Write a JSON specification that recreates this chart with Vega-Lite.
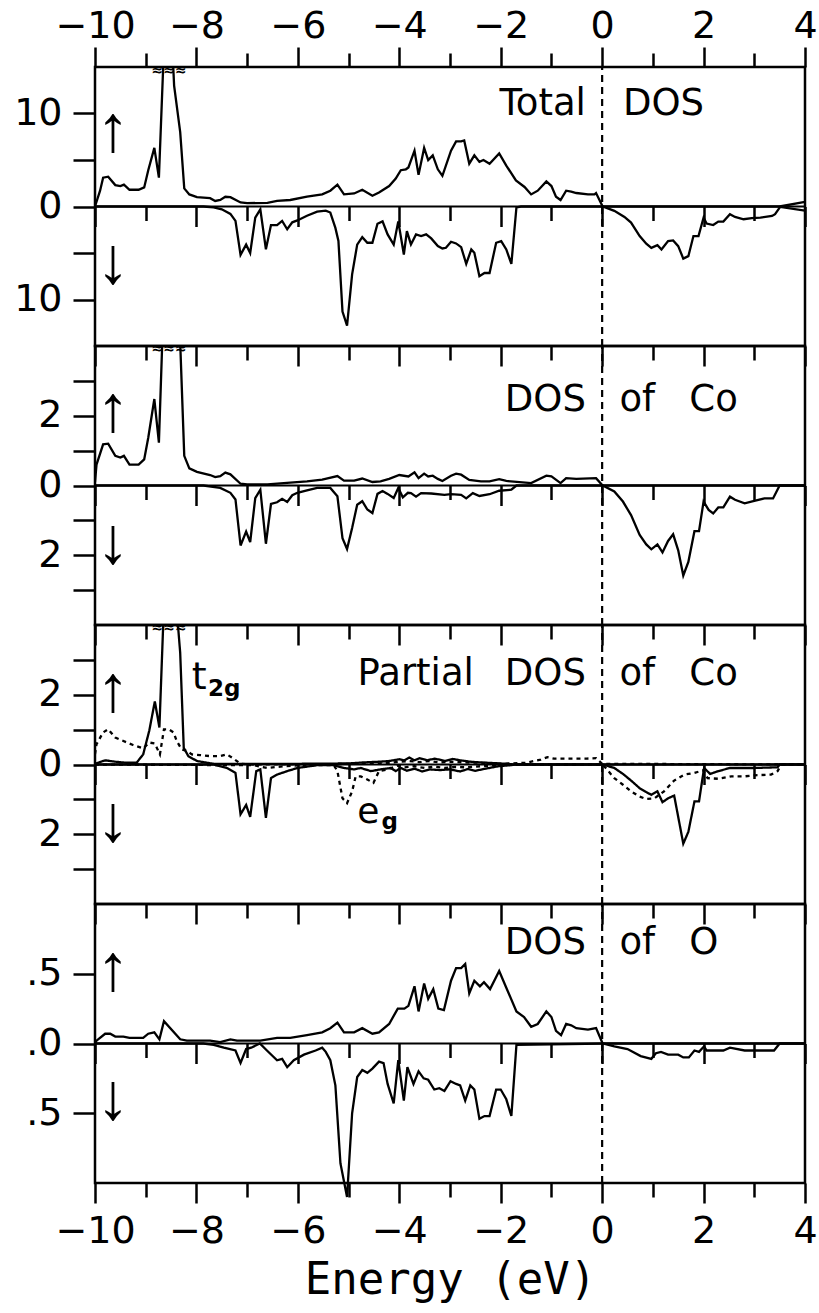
{
"$schema": "https://vega.github.io/schema/vega-lite/v6.json",
"background": "white",
"padding": {"left": 12, "top": 5, "right": 0, "bottom": 5},
"spacing": 0,
"bounds": "flush",
"datasets": {
"p1": [
{"e":-10,"v":0,"s":"up"},{"e":-9.9,"v":1.7,"s":"up"},{"e":-9.84,"v":3.1,"s":"up"},{"e":-9.74,"v":3.2,"s":"up"},{"e":-9.6,"v":2.3,"s":"up"},{"e":-9.5,"v":2.2,"s":"up"},{"e":-9.43,"v":2.35,"s":"up"},{"e":-9.32,"v":1.8,"s":"up"},{"e":-9.14,"v":1.8,"s":"up"},{"e":-9.03,"v":2.05,"s":"up"},{"e":-8.95,"v":3.9,"s":"up"},{"e":-8.83,"v":6.3,"s":"up"},{"e":-8.74,"v":3.1,"s":"up"},{"e":-8.62,"v":20,"s":"up"},{"e":-8.5,"v":20,"s":"up"},{"e":-8.44,"v":13,"s":"up"},{"e":-8.32,"v":8.0,"s":"up"},{"e":-8.24,"v":1.95,"s":"up"},{"e":-8.14,"v":1.3,"s":"up"},{"e":-7.99,"v":1.0,"s":"up"},{"e":-7.73,"v":0.9,"s":"up"},{"e":-7.63,"v":0.6,"s":"up"},{"e":-7.53,"v":0.7,"s":"up"},{"e":-7.43,"v":1.05,"s":"up"},{"e":-7.33,"v":1.0,"s":"up"},{"e":-7.13,"v":0.43,"s":"up"},{"e":-7.0,"v":0.36,"s":"up"},{"e":-6.6,"v":0.4,"s":"up"},{"e":-6.41,"v":0.6,"s":"up"},{"e":-6.15,"v":0.7,"s":"up"},{"e":-5.82,"v":1.05,"s":"up"},{"e":-5.52,"v":1.3,"s":"up"},{"e":-5.36,"v":1.7,"s":"up"},{"e":-5.22,"v":2.35,"s":"up"},{"e":-5.09,"v":1.3,"s":"up"},{"e":-4.89,"v":1.4,"s":"up"},{"e":-4.73,"v":1.8,"s":"up"},{"e":-4.53,"v":1.15,"s":"up"},{"e":-4.4,"v":1.5,"s":"up"},{"e":-4.2,"v":2.2,"s":"up"},{"e":-4.07,"v":3.0,"s":"up"},{"e":-3.97,"v":3.9,"s":"up"},{"e":-3.87,"v":4.0,"s":"up"},{"e":-3.82,"v":4.2,"s":"up"},{"e":-3.7,"v":6.0,"s":"up"},{"e":-3.62,"v":3.4,"s":"up"},{"e":-3.51,"v":6.3,"s":"up"},{"e":-3.43,"v":5.0,"s":"up"},{"e":-3.34,"v":5.5,"s":"up"},{"e":-3.24,"v":4.0,"s":"up"},{"e":-3.15,"v":3.3,"s":"up"},{"e":-2.98,"v":6.0,"s":"up"},{"e":-2.88,"v":7.0,"s":"up"},{"e":-2.78,"v":7.0,"s":"up"},{"e":-2.72,"v":7.1,"s":"up"},{"e":-2.62,"v":4.6,"s":"up"},{"e":-2.52,"v":5.5,"s":"up"},{"e":-2.42,"v":4.8,"s":"up"},{"e":-2.34,"v":5.0,"s":"up"},{"e":-2.22,"v":4.6,"s":"up"},{"e":-2.03,"v":5.7,"s":"up"},{"e":-1.89,"v":4.4,"s":"up"},{"e":-1.7,"v":2.8,"s":"up"},{"e":-1.53,"v":2.1,"s":"up"},{"e":-1.4,"v":1.3,"s":"up"},{"e":-1.27,"v":1.7,"s":"up"},{"e":-1.1,"v":2.7,"s":"up"},{"e":-1.0,"v":2.2,"s":"up"},{"e":-0.91,"v":1.05,"s":"up"},{"e":-0.82,"v":0.7,"s":"up"},{"e":-0.71,"v":1.7,"s":"up"},{"e":-0.61,"v":1.6,"s":"up"},{"e":-0.51,"v":1.45,"s":"up"},{"e":-0.28,"v":1.3,"s":"up"},{"e":-0.15,"v":1.3,"s":"up"},{"e":-0.12,"v":1.45,"s":"up"},{"e":0.01,"v":0,"s":"up"},{"e":3.5,"v":0,"s":"up"},{"e":4.0,"v":0.5,"s":"up"},
{"e":-10,"v":0,"s":"dn"},{"e":-7.86,"v":0,"s":"dn"},{"e":-7.66,"v":-0.1,"s":"dn"},{"e":-7.5,"v":-0.3,"s":"dn"},{"e":-7.33,"v":-0.8,"s":"dn"},{"e":-7.23,"v":-1.55,"s":"dn"},{"e":-7.13,"v":-5.2,"s":"dn"},{"e":-7.02,"v":-4.1,"s":"dn"},{"e":-6.94,"v":-5.0,"s":"dn"},{"e":-6.84,"v":-1.2,"s":"dn"},{"e":-6.74,"v":-0.3,"s":"dn"},{"e":-6.63,"v":-4.6,"s":"dn"},{"e":-6.53,"v":-2.0,"s":"dn"},{"e":-6.41,"v":-2.0,"s":"dn"},{"e":-6.31,"v":-1.55,"s":"dn"},{"e":-6.21,"v":-2.45,"s":"dn"},{"e":-6.11,"v":-1.7,"s":"dn"},{"e":-6.01,"v":-1.5,"s":"dn"},{"e":-5.82,"v":-1.0,"s":"dn"},{"e":-5.62,"v":-0.55,"s":"dn"},{"e":-5.45,"v":-0.45,"s":"dn"},{"e":-5.36,"v":-0.65,"s":"dn"},{"e":-5.26,"v":-2.3,"s":"dn"},{"e":-5.2,"v":-3.7,"s":"dn"},{"e":-5.12,"v":-11.3,"s":"dn"},{"e":-5.03,"v":-12.8,"s":"dn"},{"e":-4.93,"v":-7.3,"s":"dn"},{"e":-4.83,"v":-4.1,"s":"dn"},{"e":-4.73,"v":-3.3,"s":"dn"},{"e":-4.63,"v":-3.9,"s":"dn"},{"e":-4.53,"v":-3.9,"s":"dn"},{"e":-4.43,"v":-1.85,"s":"dn"},{"e":-4.33,"v":-1.6,"s":"dn"},{"e":-4.23,"v":-3.0,"s":"dn"},{"e":-4.11,"v":-4.1,"s":"dn"},{"e":-4.02,"v":-1.6,"s":"dn"},{"e":-3.91,"v":-5.16,"s":"dn"},{"e":-3.85,"v":-2.64,"s":"dn"},{"e":-3.77,"v":-4.08,"s":"dn"},{"e":-3.67,"v":-3.0,"s":"dn"},{"e":-3.57,"v":-3.18,"s":"dn"},{"e":-3.47,"v":-3.0,"s":"dn"},{"e":-3.37,"v":-3.43,"s":"dn"},{"e":-3.24,"v":-4.26,"s":"dn"},{"e":-3.15,"v":-4.51,"s":"dn"},{"e":-3.08,"v":-4.44,"s":"dn"},{"e":-2.98,"v":-3.79,"s":"dn"},{"e":-2.88,"v":-3.97,"s":"dn"},{"e":-2.78,"v":-4.37,"s":"dn"},{"e":-2.68,"v":-6.17,"s":"dn"},{"e":-2.58,"v":-4.62,"s":"dn"},{"e":-2.52,"v":-4.98,"s":"dn"},{"e":-2.42,"v":-7.5,"s":"dn"},{"e":-2.32,"v":-7.15,"s":"dn"},{"e":-2.22,"v":-7.15,"s":"dn"},{"e":-2.09,"v":-3.9,"s":"dn"},{"e":-1.99,"v":-3.72,"s":"dn"},{"e":-1.89,"v":-4.62,"s":"dn"},{"e":-1.79,"v":-6.17,"s":"dn"},{"e":-1.69,"v":-0.1,"s":"dn"},{"e":-1.6,"v":0,"s":"dn"},{"e":0.01,"v":0,"s":"dn"},{"e":0.24,"v":-0.47,"s":"dn"},{"e":0.44,"v":-1.12,"s":"dn"},{"e":0.57,"v":-1.73,"s":"dn"},{"e":0.74,"v":-3.18,"s":"dn"},{"e":0.87,"v":-4.0,"s":"dn"},{"e":0.97,"v":-4.44,"s":"dn"},{"e":1.09,"v":-4.15,"s":"dn"},{"e":1.17,"v":-4.62,"s":"dn"},{"e":1.3,"v":-3.72,"s":"dn"},{"e":1.4,"v":-3.65,"s":"dn"},{"e":1.5,"v":-4.26,"s":"dn"},{"e":1.6,"v":-5.6,"s":"dn"},{"e":1.7,"v":-5.34,"s":"dn"},{"e":1.8,"v":-3.18,"s":"dn"},{"e":1.9,"v":-3.18,"s":"dn"},{"e":2.0,"v":-1.19,"s":"dn"},{"e":2.06,"v":-1.84,"s":"dn"},{"e":2.19,"v":-1.99,"s":"dn"},{"e":2.29,"v":-1.62,"s":"dn"},{"e":2.39,"v":-1.62,"s":"dn"},{"e":2.52,"v":-0.83,"s":"dn"},{"e":2.62,"v":-1.12,"s":"dn"},{"e":2.79,"v":-1.37,"s":"dn"},{"e":2.95,"v":-1.26,"s":"dn"},{"e":3.12,"v":-1.19,"s":"dn"},{"e":3.35,"v":-1.01,"s":"dn"},{"e":3.41,"v":-0.83,"s":"dn"},{"e":3.51,"v":-0.04,"s":"dn"},{"e":4.0,"v":-0.45,"s":"dn"}
],
"p2": [
{"e":-10,"v":0.1,"s":"up"},{"e":-9.97,"v":0.6,"s":"up"},{"e":-9.84,"v":1.18,"s":"up"},{"e":-9.74,"v":1.2,"s":"up"},{"e":-9.6,"v":0.85,"s":"up"},{"e":-9.5,"v":0.8,"s":"up"},{"e":-9.43,"v":0.85,"s":"up"},{"e":-9.32,"v":0.6,"s":"up"},{"e":-9.14,"v":0.6,"s":"up"},{"e":-9.03,"v":0.75,"s":"up"},{"e":-8.95,"v":1.37,"s":"up"},{"e":-8.83,"v":2.48,"s":"up"},{"e":-8.74,"v":1.23,"s":"up"},{"e":-8.63,"v":6,"s":"up"},{"e":-8.35,"v":6,"s":"up"},{"e":-8.33,"v":4.5,"s":"up"},{"e":-8.24,"v":0.85,"s":"up"},{"e":-8.14,"v":0.49,"s":"up"},{"e":-7.99,"v":0.39,"s":"up"},{"e":-7.73,"v":0.3,"s":"up"},{"e":-7.63,"v":0.24,"s":"up"},{"e":-7.53,"v":0.27,"s":"up"},{"e":-7.43,"v":0.37,"s":"up"},{"e":-7.33,"v":0.32,"s":"up"},{"e":-7.13,"v":0.05,"s":"up"},{"e":-7.0,"v":0.03,"s":"up"},{"e":-6.6,"v":0.03,"s":"up"},{"e":-6.15,"v":0.08,"s":"up"},{"e":-5.82,"v":0.12,"s":"up"},{"e":-5.52,"v":0.17,"s":"up"},{"e":-5.22,"v":0.27,"s":"up"},{"e":-5.09,"v":0.14,"s":"up"},{"e":-4.89,"v":0.14,"s":"up"},{"e":-4.73,"v":0.2,"s":"up"},{"e":-4.53,"v":0.1,"s":"up"},{"e":-4.37,"v":0.12,"s":"up"},{"e":-4.2,"v":0.19,"s":"up"},{"e":-4.0,"v":0.3,"s":"up"},{"e":-3.82,"v":0.26,"s":"up"},{"e":-3.7,"v":0.38,"s":"up"},{"e":-3.62,"v":0.21,"s":"up"},{"e":-3.51,"v":0.34,"s":"up"},{"e":-3.43,"v":0.26,"s":"up"},{"e":-3.34,"v":0.28,"s":"up"},{"e":-3.24,"v":0.19,"s":"up"},{"e":-3.15,"v":0.13,"s":"up"},{"e":-2.98,"v":0.28,"s":"up"},{"e":-2.88,"v":0.34,"s":"up"},{"e":-2.78,"v":0.31,"s":"up"},{"e":-2.62,"v":0.16,"s":"up"},{"e":-2.39,"v":0.12,"s":"up"},{"e":-2.22,"v":0.12,"s":"up"},{"e":-2.03,"v":0.18,"s":"up"},{"e":-1.89,"v":0.13,"s":"up"},{"e":-1.4,"v":0.07,"s":"up"},{"e":-1.1,"v":0.28,"s":"up"},{"e":-1.0,"v":0.26,"s":"up"},{"e":-0.82,"v":0.07,"s":"up"},{"e":-0.71,"v":0.21,"s":"up"},{"e":-0.51,"v":0.19,"s":"up"},{"e":-0.12,"v":0.21,"s":"up"},{"e":0.01,"v":0,"s":"up"},{"e":4,"v":0,"s":"up"},
{"e":-10,"v":0,"s":"dn"},{"e":-7.86,"v":0,"s":"dn"},{"e":-7.53,"v":-0.07,"s":"dn"},{"e":-7.33,"v":-0.21,"s":"dn"},{"e":-7.23,"v":-0.4,"s":"dn"},{"e":-7.13,"v":-1.72,"s":"dn"},{"e":-7.02,"v":-1.32,"s":"dn"},{"e":-6.94,"v":-1.62,"s":"dn"},{"e":-6.84,"v":-0.36,"s":"dn"},{"e":-6.74,"v":-0.12,"s":"dn"},{"e":-6.63,"v":-1.67,"s":"dn"},{"e":-6.53,"v":-0.53,"s":"dn"},{"e":-6.41,"v":-0.48,"s":"dn"},{"e":-6.31,"v":-0.38,"s":"dn"},{"e":-6.21,"v":-0.47,"s":"dn"},{"e":-6.11,"v":-0.28,"s":"dn"},{"e":-6.01,"v":-0.21,"s":"dn"},{"e":-5.82,"v":-0.14,"s":"dn"},{"e":-5.62,"v":-0.07,"s":"dn"},{"e":-5.36,"v":-0.07,"s":"dn"},{"e":-5.22,"v":-0.31,"s":"dn"},{"e":-5.12,"v":-1.51,"s":"dn"},{"e":-5.03,"v":-1.82,"s":"dn"},{"e":-4.93,"v":-1.22,"s":"dn"},{"e":-4.83,"v":-0.55,"s":"dn"},{"e":-4.73,"v":-0.45,"s":"dn"},{"e":-4.63,"v":-0.69,"s":"dn"},{"e":-4.53,"v":-0.79,"s":"dn"},{"e":-4.43,"v":-0.24,"s":"dn"},{"e":-4.33,"v":-0.16,"s":"dn"},{"e":-4.23,"v":-0.24,"s":"dn"},{"e":-4.11,"v":-0.36,"s":"dn"},{"e":-4.02,"v":-0.07,"s":"dn"},{"e":-3.93,"v":-0.34,"s":"dn"},{"e":-3.83,"v":-0.21,"s":"dn"},{"e":-3.77,"v":-0.22,"s":"dn"},{"e":-3.67,"v":-0.32,"s":"dn"},{"e":-3.57,"v":-0.22,"s":"dn"},{"e":-3.37,"v":-0.23,"s":"dn"},{"e":-3.11,"v":-0.27,"s":"dn"},{"e":-2.98,"v":-0.25,"s":"dn"},{"e":-2.78,"v":-0.27,"s":"dn"},{"e":-2.68,"v":-0.37,"s":"dn"},{"e":-2.55,"v":-0.22,"s":"dn"},{"e":-2.42,"v":-0.3,"s":"dn"},{"e":-2.22,"v":-0.25,"s":"dn"},{"e":-2.03,"v":-0.15,"s":"dn"},{"e":-1.79,"v":-0.12,"s":"dn"},{"e":-1.69,"v":0,"s":"dn"},{"e":0.01,"v":0,"s":"dn"},{"e":0.24,"v":-0.17,"s":"dn"},{"e":0.41,"v":-0.46,"s":"dn"},{"e":0.57,"v":-0.85,"s":"dn"},{"e":0.74,"v":-1.42,"s":"dn"},{"e":0.87,"v":-1.69,"s":"dn"},{"e":0.97,"v":-1.83,"s":"dn"},{"e":1.09,"v":-1.69,"s":"dn"},{"e":1.19,"v":-1.92,"s":"dn"},{"e":1.3,"v":-1.59,"s":"dn"},{"e":1.4,"v":-1.4,"s":"dn"},{"e":1.5,"v":-1.86,"s":"dn"},{"e":1.6,"v":-2.58,"s":"dn"},{"e":1.7,"v":-2.19,"s":"dn"},{"e":1.82,"v":-1.31,"s":"dn"},{"e":1.91,"v":-1.31,"s":"dn"},{"e":2.0,"v":-0.46,"s":"dn"},{"e":2.1,"v":-0.7,"s":"dn"},{"e":2.19,"v":-0.8,"s":"dn"},{"e":2.29,"v":-0.63,"s":"dn"},{"e":2.39,"v":-0.63,"s":"dn"},{"e":2.52,"v":-0.32,"s":"dn"},{"e":2.62,"v":-0.41,"s":"dn"},{"e":2.81,"v":-0.51,"s":"dn"},{"e":3.0,"v":-0.44,"s":"dn"},{"e":3.2,"v":-0.37,"s":"dn"},{"e":3.37,"v":-0.37,"s":"dn"},{"e":3.5,"v":0,"s":"dn"},{"e":4,"v":0,"s":"dn"}
],
"p3": [
{"e":-10,"v":0.02,"s":"up","o":"t2g"},{"e":-9.8,"v":0.12,"s":"up","o":"t2g"},{"e":-9.6,"v":0.08,"s":"up","o":"t2g"},{"e":-9.38,"v":0.05,"s":"up","o":"t2g"},{"e":-9.18,"v":0.05,"s":"up","o":"t2g"},{"e":-9.05,"v":0.29,"s":"up","o":"t2g"},{"e":-8.93,"v":0.97,"s":"up","o":"t2g"},{"e":-8.82,"v":1.81,"s":"up","o":"t2g"},{"e":-8.73,"v":1.06,"s":"up","o":"t2g"},{"e":-8.63,"v":5,"s":"up","o":"t2g"},{"e":-8.42,"v":5,"s":"up","o":"t2g"},{"e":-8.32,"v":3.2,"s":"up","o":"t2g"},{"e":-8.25,"v":0.48,"s":"up","o":"t2g"},{"e":-8.16,"v":0.24,"s":"up","o":"t2g"},{"e":-7.99,"v":0.1,"s":"up","o":"t2g"},{"e":-7.66,"v":0.02,"s":"up","o":"t2g"},{"e":-6.0,"v":0.02,"s":"up","o":"t2g"},{"e":-5.0,"v":0.03,"s":"up","o":"t2g"},{"e":-4.7,"v":0.06,"s":"up","o":"t2g"},{"e":-4.4,"v":0.08,"s":"up","o":"t2g"},{"e":-4.2,"v":0.1,"s":"up","o":"t2g"},{"e":-4.0,"v":0.15,"s":"up","o":"t2g"},{"e":-3.9,"v":0.12,"s":"up","o":"t2g"},{"e":-3.8,"v":0.2,"s":"up","o":"t2g"},{"e":-3.7,"v":0.12,"s":"up","o":"t2g"},{"e":-3.6,"v":0.18,"s":"up","o":"t2g"},{"e":-3.45,"v":0.12,"s":"up","o":"t2g"},{"e":-3.3,"v":0.17,"s":"up","o":"t2g"},{"e":-3.1,"v":0.1,"s":"up","o":"t2g"},{"e":-2.95,"v":0.16,"s":"up","o":"t2g"},{"e":-2.8,"v":0.12,"s":"up","o":"t2g"},{"e":-2.6,"v":0.08,"s":"up","o":"t2g"},{"e":-2.4,"v":0.06,"s":"up","o":"t2g"},{"e":-2.0,"v":0.03,"s":"up","o":"t2g"},{"e":-1.7,"v":0,"s":"up","o":"t2g"},{"e":4,"v":0,"s":"up","o":"t2g"},
{"e":-10,"v":0.3,"s":"up","o":"eg"},{"e":-9.97,"v":0.58,"s":"up","o":"eg"},{"e":-9.84,"v":0.92,"s":"up","o":"eg"},{"e":-9.74,"v":1.01,"s":"up","o":"eg"},{"e":-9.6,"v":0.77,"s":"up","o":"eg"},{"e":-9.45,"v":0.68,"s":"up","o":"eg"},{"e":-9.25,"v":0.56,"s":"up","o":"eg"},{"e":-9.05,"v":0.46,"s":"up","o":"eg"},{"e":-8.93,"v":0.63,"s":"up","o":"eg"},{"e":-8.82,"v":0.6,"s":"up","o":"eg"},{"e":-8.72,"v":0.29,"s":"up","o":"eg"},{"e":-8.64,"v":1.01,"s":"up","o":"eg"},{"e":-8.55,"v":1.01,"s":"up","o":"eg"},{"e":-8.45,"v":0.92,"s":"up","o":"eg"},{"e":-8.39,"v":0.68,"s":"up","o":"eg"},{"e":-8.29,"v":0.43,"s":"up","o":"eg"},{"e":-8.19,"v":0.39,"s":"up","o":"eg"},{"e":-8.09,"v":0.29,"s":"up","o":"eg"},{"e":-7.93,"v":0.27,"s":"up","o":"eg"},{"e":-7.73,"v":0.24,"s":"up","o":"eg"},{"e":-7.53,"v":0.24,"s":"up","o":"eg"},{"e":-7.4,"v":0.29,"s":"up","o":"eg"},{"e":-7.27,"v":0.17,"s":"up","o":"eg"},{"e":-7.13,"v":0.02,"s":"up","o":"eg"},{"e":-6.87,"v":0,"s":"up","o":"eg"},{"e":-4.5,"v":0.02,"s":"up","o":"eg"},{"e":-4.2,"v":0.05,"s":"up","o":"eg"},{"e":-4.0,"v":0.08,"s":"up","o":"eg"},{"e":-3.8,"v":0.1,"s":"up","o":"eg"},{"e":-3.6,"v":0.07,"s":"up","o":"eg"},{"e":-3.4,"v":0.1,"s":"up","o":"eg"},{"e":-3.2,"v":0.06,"s":"up","o":"eg"},{"e":-3.0,"v":0.08,"s":"up","o":"eg"},{"e":-2.7,"v":0.06,"s":"up","o":"eg"},{"e":-2.4,"v":0.05,"s":"up","o":"eg"},{"e":-2.0,"v":0.02,"s":"up","o":"eg"},{"e":-1.5,"v":0.05,"s":"up","o":"eg"},{"e":-1.21,"v":0.14,"s":"up","o":"eg"},{"e":-1.08,"v":0.21,"s":"up","o":"eg"},{"e":-0.95,"v":0.17,"s":"up","o":"eg"},{"e":-0.68,"v":0.17,"s":"up","o":"eg"},{"e":-0.3,"v":0.17,"s":"up","o":"eg"},{"e":-0.12,"v":0.18,"s":"up","o":"eg"},{"e":0.0,"v":0.02,"s":"up","o":"eg"},{"e":4,"v":0,"s":"up","o":"eg"},
{"e":-10,"v":0,"s":"dn","o":"t2g"},{"e":-7.66,"v":0,"s":"dn","o":"t2g"},{"e":-7.4,"v":-0.1,"s":"dn","o":"t2g"},{"e":-7.23,"v":-0.24,"s":"dn","o":"t2g"},{"e":-7.13,"v":-1.43,"s":"dn","o":"t2g"},{"e":-7.02,"v":-1.16,"s":"dn","o":"t2g"},{"e":-6.94,"v":-1.5,"s":"dn","o":"t2g"},{"e":-6.82,"v":-0.19,"s":"dn","o":"t2g"},{"e":-6.74,"v":-0.14,"s":"dn","o":"t2g"},{"e":-6.63,"v":-1.53,"s":"dn","o":"t2g"},{"e":-6.53,"v":-0.39,"s":"dn","o":"t2g"},{"e":-6.41,"v":-0.29,"s":"dn","o":"t2g"},{"e":-6.21,"v":-0.19,"s":"dn","o":"t2g"},{"e":-6.01,"v":-0.1,"s":"dn","o":"t2g"},{"e":-5.62,"v":-0.02,"s":"dn","o":"t2g"},{"e":-5.29,"v":-0.02,"s":"dn","o":"t2g"},{"e":-5.09,"v":-0.1,"s":"dn","o":"t2g"},{"e":-4.89,"v":-0.14,"s":"dn","o":"t2g"},{"e":-4.76,"v":-0.1,"s":"dn","o":"t2g"},{"e":-4.56,"v":-0.19,"s":"dn","o":"t2g"},{"e":-4.37,"v":-0.14,"s":"dn","o":"t2g"},{"e":-4.17,"v":-0.1,"s":"dn","o":"t2g"},{"e":-4.07,"v":-0.19,"s":"dn","o":"t2g"},{"e":-3.97,"v":-0.1,"s":"dn","o":"t2g"},{"e":-3.85,"v":-0.18,"s":"dn","o":"t2g"},{"e":-3.7,"v":-0.12,"s":"dn","o":"t2g"},{"e":-3.55,"v":-0.2,"s":"dn","o":"t2g"},{"e":-3.4,"v":-0.14,"s":"dn","o":"t2g"},{"e":-3.2,"v":-0.16,"s":"dn","o":"t2g"},{"e":-3.0,"v":-0.14,"s":"dn","o":"t2g"},{"e":-2.8,"v":-0.2,"s":"dn","o":"t2g"},{"e":-2.65,"v":-0.13,"s":"dn","o":"t2g"},{"e":-2.5,"v":-0.18,"s":"dn","o":"t2g"},{"e":-2.3,"v":-0.12,"s":"dn","o":"t2g"},{"e":-2.05,"v":-0.05,"s":"dn","o":"t2g"},{"e":-1.8,"v":-0.02,"s":"dn","o":"t2g"},{"e":-1.7,"v":0,"s":"dn","o":"t2g"},{"e":0.01,"v":0,"s":"dn","o":"t2g"},{"e":0.24,"v":-0.1,"s":"dn","o":"t2g"},{"e":0.41,"v":-0.27,"s":"dn","o":"t2g"},{"e":0.57,"v":-0.46,"s":"dn","o":"t2g"},{"e":0.74,"v":-0.68,"s":"dn","o":"t2g"},{"e":0.87,"v":-0.79,"s":"dn","o":"t2g"},{"e":0.97,"v":-0.87,"s":"dn","o":"t2g"},{"e":1.09,"v":-0.77,"s":"dn","o":"t2g"},{"e":1.19,"v":-1.08,"s":"dn","o":"t2g"},{"e":1.3,"v":-0.97,"s":"dn","o":"t2g"},{"e":1.42,"v":-0.89,"s":"dn","o":"t2g"},{"e":1.6,"v":-2.27,"s":"dn","o":"t2g"},{"e":1.7,"v":-1.93,"s":"dn","o":"t2g"},{"e":1.82,"v":-1.06,"s":"dn","o":"t2g"},{"e":1.91,"v":-1.06,"s":"dn","o":"t2g"},{"e":2.01,"v":-0.1,"s":"dn","o":"t2g"},{"e":2.13,"v":-0.27,"s":"dn","o":"t2g"},{"e":2.29,"v":-0.19,"s":"dn","o":"t2g"},{"e":2.52,"v":-0.1,"s":"dn","o":"t2g"},{"e":3.0,"v":-0.1,"s":"dn","o":"t2g"},{"e":3.46,"v":-0.08,"s":"dn","o":"t2g"},{"e":3.5,"v":0,"s":"dn","o":"t2g"},{"e":4,"v":0,"s":"dn","o":"t2g"},
{"e":-10,"v":0,"s":"dn","o":"eg"},{"e":-6.87,"v":-0.02,"s":"dn","o":"eg"},{"e":-6.61,"v":-0.1,"s":"dn","o":"eg"},{"e":-6.28,"v":-0.05,"s":"dn","o":"eg"},{"e":-5.95,"v":-0.02,"s":"dn","o":"eg"},{"e":-5.29,"v":-0.02,"s":"dn","o":"eg"},{"e":-5.22,"v":-0.19,"s":"dn","o":"eg"},{"e":-5.12,"v":-0.97,"s":"dn","o":"eg"},{"e":-5.03,"v":-1.11,"s":"dn","o":"eg"},{"e":-4.93,"v":-0.77,"s":"dn","o":"eg"},{"e":-4.86,"v":-0.34,"s":"dn","o":"eg"},{"e":-4.76,"v":-0.34,"s":"dn","o":"eg"},{"e":-4.63,"v":-0.43,"s":"dn","o":"eg"},{"e":-4.51,"v":-0.53,"s":"dn","o":"eg"},{"e":-4.4,"v":-0.19,"s":"dn","o":"eg"},{"e":-4.23,"v":-0.14,"s":"dn","o":"eg"},{"e":-4.03,"v":-0.03,"s":"dn","o":"eg"},{"e":-3.9,"v":-0.08,"s":"dn","o":"eg"},{"e":-3.7,"v":-0.05,"s":"dn","o":"eg"},{"e":-3.5,"v":-0.1,"s":"dn","o":"eg"},{"e":-3.3,"v":-0.06,"s":"dn","o":"eg"},{"e":-3.1,"v":-0.1,"s":"dn","o":"eg"},{"e":-2.9,"v":-0.07,"s":"dn","o":"eg"},{"e":-2.7,"v":-0.08,"s":"dn","o":"eg"},{"e":-2.4,"v":-0.05,"s":"dn","o":"eg"},{"e":-2.0,"v":-0.02,"s":"dn","o":"eg"},{"e":-1.7,"v":0,"s":"dn","o":"eg"},{"e":0.01,"v":0,"s":"dn","o":"eg"},{"e":0.24,"v":-0.39,"s":"dn","o":"eg"},{"e":0.41,"v":-0.58,"s":"dn","o":"eg"},{"e":0.57,"v":-0.77,"s":"dn","o":"eg"},{"e":0.74,"v":-0.92,"s":"dn","o":"eg"},{"e":0.87,"v":-0.99,"s":"dn","o":"eg"},{"e":1.03,"v":-0.97,"s":"dn","o":"eg"},{"e":1.22,"v":-0.77,"s":"dn","o":"eg"},{"e":1.42,"v":-0.46,"s":"dn","o":"eg"},{"e":1.62,"v":-0.29,"s":"dn","o":"eg"},{"e":1.82,"v":-0.24,"s":"dn","o":"eg"},{"e":1.99,"v":-0.17,"s":"dn","o":"eg"},{"e":2.08,"v":-0.39,"s":"dn","o":"eg"},{"e":2.29,"v":-0.41,"s":"dn","o":"eg"},{"e":2.55,"v":-0.34,"s":"dn","o":"eg"},{"e":2.81,"v":-0.34,"s":"dn","o":"eg"},{"e":3.0,"v":-0.31,"s":"dn","o":"eg"},{"e":3.33,"v":-0.29,"s":"dn","o":"eg"},{"e":3.46,"v":-0.19,"s":"dn","o":"eg"},{"e":3.53,"v":0,"s":"dn","o":"eg"},{"e":4,"v":0,"s":"dn","o":"eg"}
],
"p4": [
{"e":-10,"v":0,"s":"up"},{"e":-9.97,"v":0.02,"s":"up"},{"e":-9.8,"v":0.07,"s":"up"},{"e":-9.7,"v":0.07,"s":"up"},{"e":-9.6,"v":0.05,"s":"up"},{"e":-9.44,"v":0.05,"s":"up"},{"e":-9.32,"v":0.04,"s":"up"},{"e":-9.05,"v":0.04,"s":"up"},{"e":-8.95,"v":0.07,"s":"up"},{"e":-8.83,"v":0.08,"s":"up"},{"e":-8.73,"v":0.03,"s":"up"},{"e":-8.64,"v":0.16,"s":"up"},{"e":-8.32,"v":0.03,"s":"up"},{"e":-8.19,"v":0.02,"s":"up"},{"e":-7.73,"v":0.02,"s":"up"},{"e":-7.53,"v":0.01,"s":"up"},{"e":-7.33,"v":0.03,"s":"up"},{"e":-7.2,"v":0.02,"s":"up"},{"e":-6.74,"v":0.02,"s":"up"},{"e":-6.41,"v":0.04,"s":"up"},{"e":-6.15,"v":0.04,"s":"up"},{"e":-5.82,"v":0.06,"s":"up"},{"e":-5.52,"v":0.08,"s":"up"},{"e":-5.36,"v":0.11,"s":"up"},{"e":-5.22,"v":0.15,"s":"up"},{"e":-5.09,"v":0.08,"s":"up"},{"e":-4.89,"v":0.08,"s":"up"},{"e":-4.73,"v":0.11,"s":"up"},{"e":-4.53,"v":0.07,"s":"up"},{"e":-4.4,"v":0.08,"s":"up"},{"e":-4.2,"v":0.14,"s":"up"},{"e":-4.03,"v":0.25,"s":"up"},{"e":-3.9,"v":0.25,"s":"up"},{"e":-3.82,"v":0.27,"s":"up"},{"e":-3.7,"v":0.41,"s":"up"},{"e":-3.62,"v":0.23,"s":"up"},{"e":-3.51,"v":0.43,"s":"up"},{"e":-3.43,"v":0.32,"s":"up"},{"e":-3.33,"v":0.39,"s":"up"},{"e":-3.23,"v":0.25,"s":"up"},{"e":-3.12,"v":0.24,"s":"up"},{"e":-2.98,"v":0.45,"s":"up"},{"e":-2.88,"v":0.54,"s":"up"},{"e":-2.78,"v":0.54,"s":"up"},{"e":-2.7,"v":0.57,"s":"up"},{"e":-2.62,"v":0.36,"s":"up"},{"e":-2.52,"v":0.45,"s":"up"},{"e":-2.41,"v":0.41,"s":"up"},{"e":-2.33,"v":0.44,"s":"up"},{"e":-2.21,"v":0.39,"s":"up"},{"e":-2.03,"v":0.52,"s":"up"},{"e":-1.89,"v":0.4,"s":"up"},{"e":-1.69,"v":0.23,"s":"up"},{"e":-1.54,"v":0.19,"s":"up"},{"e":-1.4,"v":0.12,"s":"up"},{"e":-1.27,"v":0.14,"s":"up"},{"e":-1.1,"v":0.23,"s":"up"},{"e":-1.0,"v":0.19,"s":"up"},{"e":-0.91,"v":0.09,"s":"up"},{"e":-0.81,"v":0.06,"s":"up"},{"e":-0.71,"v":0.14,"s":"up"},{"e":-0.61,"v":0.13,"s":"up"},{"e":-0.51,"v":0.11,"s":"up"},{"e":-0.28,"v":0.1,"s":"up"},{"e":-0.12,"v":0.11,"s":"up"},{"e":0.01,"v":0,"s":"up"},{"e":4,"v":0,"s":"up"},
{"e":-10,"v":0,"s":"dn"},{"e":-7.86,"v":0,"s":"dn"},{"e":-7.66,"v":-0.01,"s":"dn"},{"e":-7.46,"v":-0.03,"s":"dn"},{"e":-7.23,"v":-0.05,"s":"dn"},{"e":-7.13,"v":-0.14,"s":"dn"},{"e":-7.02,"v":-0.04,"s":"dn"},{"e":-6.92,"v":-0.03,"s":"dn"},{"e":-6.75,"v":0,"s":"dn"},{"e":-6.61,"v":-0.05,"s":"dn"},{"e":-6.41,"v":-0.12,"s":"dn"},{"e":-6.31,"v":-0.11,"s":"dn"},{"e":-6.21,"v":-0.17,"s":"dn"},{"e":-6.08,"v":-0.12,"s":"dn"},{"e":-5.88,"v":-0.08,"s":"dn"},{"e":-5.65,"v":-0.05,"s":"dn"},{"e":-5.52,"v":-0.03,"s":"dn"},{"e":-5.45,"v":-0.06,"s":"dn"},{"e":-5.36,"v":-0.12,"s":"dn"},{"e":-5.26,"v":-0.3,"s":"dn"},{"e":-5.16,"v":-0.86,"s":"dn"},{"e":-5.03,"v":-1.1,"s":"dn"},{"e":-4.93,"v":-0.5,"s":"dn"},{"e":-4.83,"v":-0.24,"s":"dn"},{"e":-4.73,"v":-0.19,"s":"dn"},{"e":-4.63,"v":-0.21,"s":"dn"},{"e":-4.53,"v":-0.18,"s":"dn"},{"e":-4.4,"v":-0.13,"s":"dn"},{"e":-4.31,"v":-0.14,"s":"dn"},{"e":-4.23,"v":-0.29,"s":"dn"},{"e":-4.11,"v":-0.43,"s":"dn"},{"e":-4.02,"v":-0.12,"s":"dn"},{"e":-3.91,"v":-0.41,"s":"dn"},{"e":-3.84,"v":-0.17,"s":"dn"},{"e":-3.72,"v":-0.29,"s":"dn"},{"e":-3.62,"v":-0.2,"s":"dn"},{"e":-3.52,"v":-0.25,"s":"dn"},{"e":-3.43,"v":-0.26,"s":"dn"},{"e":-3.31,"v":-0.33,"s":"dn"},{"e":-3.21,"v":-0.32,"s":"dn"},{"e":-3.11,"v":-0.34,"s":"dn"},{"e":-2.99,"v":-0.27,"s":"dn"},{"e":-2.88,"v":-0.29,"s":"dn"},{"e":-2.8,"v":-0.3,"s":"dn"},{"e":-2.7,"v":-0.41,"s":"dn"},{"e":-2.6,"v":-0.3,"s":"dn"},{"e":-2.52,"v":-0.33,"s":"dn"},{"e":-2.42,"v":-0.54,"s":"dn"},{"e":-2.32,"v":-0.52,"s":"dn"},{"e":-2.22,"v":-0.52,"s":"dn"},{"e":-2.09,"v":-0.33,"s":"dn"},{"e":-2.0,"v":-0.33,"s":"dn"},{"e":-1.89,"v":-0.4,"s":"dn"},{"e":-1.79,"v":-0.52,"s":"dn"},{"e":-1.69,"v":-0.01,"s":"dn"},{"e":0.01,"v":0,"s":"dn"},{"e":0.24,"v":-0.02,"s":"dn"},{"e":0.5,"v":-0.04,"s":"dn"},{"e":0.76,"v":-0.09,"s":"dn"},{"e":0.97,"v":-0.11,"s":"dn"},{"e":1.06,"v":-0.07,"s":"dn"},{"e":1.16,"v":-0.06,"s":"dn"},{"e":1.3,"v":-0.08,"s":"dn"},{"e":1.5,"v":-0.08,"s":"dn"},{"e":1.6,"v":-0.1,"s":"dn"},{"e":1.71,"v":-0.1,"s":"dn"},{"e":1.82,"v":-0.05,"s":"dn"},{"e":1.91,"v":-0.06,"s":"dn"},{"e":2.01,"v":-0.02,"s":"dn"},{"e":2.06,"v":-0.05,"s":"dn"},{"e":2.39,"v":-0.05,"s":"dn"},{"e":2.52,"v":-0.03,"s":"dn"},{"e":2.81,"v":-0.05,"s":"dn"},{"e":3.14,"v":-0.05,"s":"dn"},{"e":3.39,"v":-0.05,"s":"dn"},{"e":3.5,"v":0,"s":"dn"},{"e":4,"v":0,"s":"dn"}
],
"one": [{}]
},
"vconcat": [
{
"width": 710, "height": 279,
"resolve": {"axis": {"x": "independent", "y": "independent"}},
"layer": [
{"data": {"name": "p1"}, "mark": {"type": "line", "clip": true},
 "encoding": {
  "x": {"field": "e", "type": "quantitative", "scale": {"domain": [-10, 4], "nice": false}, "axis": {"orient": "top", "values": [-10,-8,-6,-4,-2,0,2,4], "tickSize": 20, "labelPadding": 2, "format": "d", "title": null}},
  "y": {"field": "v", "type": "quantitative", "scale": {"domain": [-15, 15], "nice": false}, "axis": {"orient": "left", "values": [-10,-5,0,5,10], "labelExpr": "abs(datum.value) == 5 ? '' : format(abs(datum.value), 'd')", "tickSize": 22, "labelPadding": 11, "title": null}},
  "detail": {"field": "s"}}},
{"data": {"name": "one"}, "mark": {"type": "rule"}, "encoding": {"x": {"datum": -10, "type": "quantitative", "axis": null}, "x2": {"datum": 4}, "y": {"datum": 0, "type": "quantitative", "axis": null}}},
{"data": {"name": "one"}, "mark": {"type": "rule", "strokeDash": [7, 5]}, "encoding": {"x": {"datum": 0, "type": "quantitative", "axis": {"orient": "top", "values": [-9,-7,-5,-3,-1,1,3], "tickSize": 14, "labels": false, "title": null}}, "y": {"datum": -15, "type": "quantitative", "axis": null}, "y2": {"datum": 15}}},
{"data": {"name": "one"}, "mark": {"type": "point", "opacity": 0}, "encoding": {"x": {"datum": 0, "type": "quantitative", "axis": {"orient": "bottom", "offset": -139.5, "values": [-10,-8,-6,-4,-2,0,2,4], "tickSize": 20, "labels": false, "title": null}}, "y": {"datum": 0, "type": "quantitative", "axis": null}}},
{"data": {"name": "one"}, "mark": {"type": "point", "opacity": 0}, "encoding": {"x": {"datum": 0, "type": "quantitative", "axis": {"orient": "bottom", "offset": -139.5, "values": [-9,-7,-5,-3,-1,1,3], "tickSize": 14, "labels": false, "title": null}}, "y": {"datum": 0, "type": "quantitative", "axis": null}}},
{"data": {"name": "one"}, "mark": {"type": "text", "text": "Total", "align": "right", "baseline": "alphabetic"}, "encoding": {"x": {"datum": -0.32, "type": "quantitative", "axis": null}, "y": {"datum": 9.8, "type": "quantitative", "axis": null}}},
{"data": {"name": "one"}, "mark": {"type": "text", "text": "DOS", "align": "left", "baseline": "alphabetic"}, "encoding": {"x": {"datum": 0.41, "type": "quantitative", "axis": null}, "y": {"datum": 9.8, "type": "quantitative", "axis": null}}},
{"data": {"name": "one"}, "mark": {"type": "text", "text": "↑", "align": "center", "baseline": "middle", "font": "Liberation Sans", "fontSize": 66}, "encoding": {"x": {"datum": -9.645, "type": "quantitative", "axis": null}, "y": {"datum": 8.1, "type": "quantitative", "axis": null}}},
{"data": {"name": "one"}, "mark": {"type": "text", "text": "↓", "align": "center", "baseline": "middle", "font": "Liberation Sans", "fontSize": 66}, "encoding": {"x": {"datum": -9.645, "type": "quantitative", "axis": null}, "y": {"datum": -6.1, "type": "quantitative", "axis": null}}},
{"data": {"name": "one"}, "mark": {"type": "text", "text": "≈≈≈", "align": "center", "baseline": "middle", "fontSize": 14, "fontWeight": "bold"}, "encoding": {"x": {"datum": -8.54, "type": "quantitative", "axis": null}, "y": {"datum": 14.6, "type": "quantitative", "axis": null}}}
]
},
{
"width": 710, "height": 279,
"resolve": {"axis": {"x": "independent", "y": "independent"}},
"layer": [
{"data": {"name": "p2"}, "mark": {"type": "line", "clip": true},
 "encoding": {
  "x": {"field": "e", "type": "quantitative", "scale": {"domain": [-10, 4], "nice": false}, "axis": {"orient": "top", "values": [-10,-8,-6,-4,-2,0,2,4], "tickSize": -20, "labels": false, "title": null}},
  "y": {"field": "v", "type": "quantitative", "scale": {"domain": [-4, 4], "nice": false}, "axis": {"orient": "left", "values": [-3,-2,-1,0,1,2,3], "labelExpr": "abs(datum.value) == 2 || datum.value == 0 ? format(abs(datum.value), 'd') : ''", "tickSize": 22, "labelPadding": 11, "title": null}},
  "detail": {"field": "s"}}},
{"data": {"name": "one"}, "mark": {"type": "rule"}, "encoding": {"x": {"datum": -10, "type": "quantitative", "axis": null}, "x2": {"datum": 4}, "y": {"datum": 0, "type": "quantitative", "axis": null}}},
{"data": {"name": "one"}, "mark": {"type": "rule", "strokeDash": [7, 5]}, "encoding": {"x": {"datum": 0, "type": "quantitative", "axis": {"orient": "top", "values": [-9,-7,-5,-3,-1,1,3], "tickSize": -14, "labels": false, "title": null}}, "y": {"datum": -4, "type": "quantitative", "axis": null}, "y2": {"datum": 4}}},
{"data": {"name": "one"}, "mark": {"type": "point", "opacity": 0}, "encoding": {"x": {"datum": 0, "type": "quantitative", "axis": {"orient": "bottom", "offset": -139.5, "values": [-10,-8,-6,-4,-2,0,2,4], "tickSize": 20, "labels": false, "title": null}}, "y": {"datum": 0, "type": "quantitative", "axis": null}}},
{"data": {"name": "one"}, "mark": {"type": "point", "opacity": 0}, "encoding": {"x": {"datum": 0, "type": "quantitative", "axis": {"orient": "bottom", "offset": -139.5, "values": [-9,-7,-5,-3,-1,1,3], "tickSize": 14, "labels": false, "title": null}}, "y": {"datum": 0, "type": "quantitative", "axis": null}}},
{"data": {"name": "one"}, "mark": {"type": "text", "text": "DOS", "align": "right", "baseline": "alphabetic"}, "encoding": {"x": {"datum": -0.32, "type": "quantitative", "axis": null}, "y": {"datum": 2.13, "type": "quantitative", "axis": null}}},
{"data": {"name": "one"}, "mark": {"type": "text", "text": "of", "align": "left", "baseline": "alphabetic"}, "encoding": {"x": {"datum": 0.34, "type": "quantitative", "axis": null}, "y": {"datum": 2.13, "type": "quantitative", "axis": null}}},
{"data": {"name": "one"}, "mark": {"type": "text", "text": "Co", "align": "left", "baseline": "alphabetic"}, "encoding": {"x": {"datum": 1.72, "type": "quantitative", "axis": null}, "y": {"datum": 2.13, "type": "quantitative", "axis": null}}},
{"data": {"name": "one"}, "mark": {"type": "text", "text": "↑", "align": "center", "baseline": "middle", "font": "Liberation Sans", "fontSize": 66}, "encoding": {"x": {"datum": -9.645, "type": "quantitative", "axis": null}, "y": {"datum": 2.14, "type": "quantitative", "axis": null}}},
{"data": {"name": "one"}, "mark": {"type": "text", "text": "↓", "align": "center", "baseline": "middle", "font": "Liberation Sans", "fontSize": 66}, "encoding": {"x": {"datum": -9.645, "type": "quantitative", "axis": null}, "y": {"datum": -1.65, "type": "quantitative", "axis": null}}},
{"data": {"name": "one"}, "mark": {"type": "text", "text": "≈≈≈", "align": "center", "baseline": "middle", "fontSize": 14, "fontWeight": "bold"}, "encoding": {"x": {"datum": -8.54, "type": "quantitative", "axis": null}, "y": {"datum": 3.9, "type": "quantitative", "axis": null}}}
]
},
{
"width": 710, "height": 279,
"resolve": {"axis": {"x": "independent", "y": "independent"}},
"layer": [
{"data": {"name": "p3"}, "mark": {"type": "line", "clip": true},
 "encoding": {
  "x": {"field": "e", "type": "quantitative", "scale": {"domain": [-10, 4], "nice": false}, "axis": {"orient": "top", "values": [-10,-8,-6,-4,-2,0,2,4], "tickSize": -20, "labels": false, "title": null}},
  "y": {"field": "v", "type": "quantitative", "scale": {"domain": [-4, 4], "nice": false}, "axis": {"orient": "left", "values": [-3,-2,-1,0,1,2,3], "labelExpr": "abs(datum.value) == 2 || datum.value == 0 ? format(abs(datum.value), 'd') : ''", "tickSize": 22, "labelPadding": 11, "title": null}},
  "strokeDash": {"field": "o", "type": "nominal", "scale": {"domain": ["t2g", "eg"], "range": [[1, 0], [4, 4]]}, "legend": null},
  "detail": {"field": "s"}}},
{"data": {"name": "one"}, "mark": {"type": "rule"}, "encoding": {"x": {"datum": -10, "type": "quantitative", "axis": null}, "x2": {"datum": 4}, "y": {"datum": 0, "type": "quantitative", "axis": null}}},
{"data": {"name": "one"}, "mark": {"type": "rule", "strokeDash": [7, 5]}, "encoding": {"x": {"datum": 0, "type": "quantitative", "axis": {"orient": "top", "values": [-9,-7,-5,-3,-1,1,3], "tickSize": -14, "labels": false, "title": null}}, "y": {"datum": -4, "type": "quantitative", "axis": null}, "y2": {"datum": 4}}},
{"data": {"name": "one"}, "mark": {"type": "point", "opacity": 0}, "encoding": {"x": {"datum": 0, "type": "quantitative", "axis": {"orient": "bottom", "offset": -139.5, "values": [-10,-8,-6,-4,-2,0,2,4], "tickSize": 20, "labels": false, "title": null}}, "y": {"datum": 0, "type": "quantitative", "axis": null}}},
{"data": {"name": "one"}, "mark": {"type": "point", "opacity": 0}, "encoding": {"x": {"datum": 0, "type": "quantitative", "axis": {"orient": "bottom", "offset": -139.5, "values": [-9,-7,-5,-3,-1,1,3], "tickSize": 14, "labels": false, "title": null}}, "y": {"datum": 0, "type": "quantitative", "axis": null}}},
{"data": {"name": "one"}, "mark": {"type": "text", "text": "Partial", "align": "right", "baseline": "alphabetic"}, "encoding": {"x": {"datum": -2.53, "type": "quantitative", "axis": null}, "y": {"datum": 2.27, "type": "quantitative", "axis": null}}},
{"data": {"name": "one"}, "mark": {"type": "text", "text": "DOS", "align": "right", "baseline": "alphabetic"}, "encoding": {"x": {"datum": -0.32, "type": "quantitative", "axis": null}, "y": {"datum": 2.27, "type": "quantitative", "axis": null}}},
{"data": {"name": "one"}, "mark": {"type": "text", "text": "of", "align": "left", "baseline": "alphabetic"}, "encoding": {"x": {"datum": 0.34, "type": "quantitative", "axis": null}, "y": {"datum": 2.27, "type": "quantitative", "axis": null}}},
{"data": {"name": "one"}, "mark": {"type": "text", "text": "Co", "align": "left", "baseline": "alphabetic"}, "encoding": {"x": {"datum": 1.72, "type": "quantitative", "axis": null}, "y": {"datum": 2.27, "type": "quantitative", "axis": null}}},
{"data": {"name": "one"}, "mark": {"type": "text", "text": "t", "align": "left", "baseline": "alphabetic", "fontSize": 38}, "encoding": {"x": {"datum": -8.09, "type": "quantitative", "axis": null}, "y": {"datum": 2.16, "type": "quantitative", "axis": null}}},
{"data": {"name": "one"}, "mark": {"type": "text", "text": "2g", "align": "left", "baseline": "alphabetic", "fontSize": 23, "fontWeight": "bold"}, "encoding": {"x": {"datum": -7.77, "type": "quantitative", "axis": null}, "y": {"datum": 1.96, "type": "quantitative", "axis": null}}},
{"data": {"name": "one"}, "mark": {"type": "text", "text": "e", "align": "left", "baseline": "alphabetic", "fontSize": 36}, "encoding": {"x": {"datum": -4.83, "type": "quantitative", "axis": null}, "y": {"datum": -1.68, "type": "quantitative", "axis": null}}},
{"data": {"name": "one"}, "mark": {"type": "text", "text": "g", "align": "left", "baseline": "alphabetic", "fontSize": 23, "fontWeight": "bold"}, "encoding": {"x": {"datum": -4.35, "type": "quantitative", "axis": null}, "y": {"datum": -1.86, "type": "quantitative", "axis": null}}},
{"data": {"name": "one"}, "mark": {"type": "text", "text": "↑", "align": "center", "baseline": "middle", "font": "Liberation Sans", "fontSize": 66}, "encoding": {"x": {"datum": -9.645, "type": "quantitative", "axis": null}, "y": {"datum": 2.12, "type": "quantitative", "axis": null}}},
{"data": {"name": "one"}, "mark": {"type": "text", "text": "↓", "align": "center", "baseline": "middle", "font": "Liberation Sans", "fontSize": 66}, "encoding": {"x": {"datum": -9.645, "type": "quantitative", "axis": null}, "y": {"datum": -1.63, "type": "quantitative", "axis": null}}},
{"data": {"name": "one"}, "mark": {"type": "text", "text": "≈≈≈", "align": "center", "baseline": "middle", "fontSize": 14, "fontWeight": "bold"}, "encoding": {"x": {"datum": -8.54, "type": "quantitative", "axis": null}, "y": {"datum": 3.9, "type": "quantitative", "axis": null}}}
]
},
{
"width": 710, "height": 279,
"resolve": {"axis": {"x": "independent", "y": "independent"}},
"layer": [
{"data": {"name": "p4"}, "mark": {"type": "line"},
 "encoding": {
  "x": {"field": "e", "type": "quantitative", "scale": {"domain": [-10, 4], "nice": false}, "axis": {"orient": "top", "values": [-10,-8,-6,-4,-2,0,2,4], "tickSize": -20, "labels": false, "title": null}},
  "y": {"field": "v", "type": "quantitative", "scale": {"domain": [-1, 1], "nice": false}, "axis": {"orient": "left", "values": [-0.5, 0, 0.5], "labelExpr": "replace(format(abs(datum.value), '.1f'), '0.', '.')", "tickSize": 22, "labelPadding": 11, "title": null}},
  "detail": {"field": "s"}}},
{"data": {"name": "one"}, "mark": {"type": "rule"}, "encoding": {"x": {"datum": -10, "type": "quantitative", "axis": null}, "x2": {"datum": 4}, "y": {"datum": 0, "type": "quantitative", "axis": null}}},
{"data": {"name": "one"}, "mark": {"type": "rule", "strokeDash": [7, 5]}, "encoding": {"x": {"datum": 0, "type": "quantitative", "axis": {"orient": "top", "values": [-9,-7,-5,-3,-1,1,3], "tickSize": -14, "labels": false, "title": null}}, "y": {"datum": -1, "type": "quantitative", "axis": null}, "y2": {"datum": 1}}},
{"data": {"name": "one"}, "mark": {"type": "point", "opacity": 0}, "encoding": {"x": {"datum": 0, "type": "quantitative", "axis": {"orient": "bottom", "offset": -139.5, "values": [-10,-8,-6,-4,-2,0,2,4], "tickSize": 20, "labels": false, "title": null}}, "y": {"datum": 0, "type": "quantitative", "axis": null}}},
{"data": {"name": "one"}, "mark": {"type": "point", "opacity": 0}, "encoding": {"x": {"datum": 0, "type": "quantitative", "axis": {"orient": "bottom", "offset": -139.5, "values": [-9,-7,-5,-3,-1,1,3], "tickSize": 14, "labels": false, "title": null}}, "y": {"datum": 0, "type": "quantitative", "axis": null}}},
{"data": {"name": "one"}, "mark": {"type": "point", "opacity": 0}, "encoding": {"x": {"datum": 0, "type": "quantitative", "axis": {"orient": "bottom", "values": [-10,-8,-6,-4,-2,0,2,4], "tickSize": 20, "labelPadding": 9, "format": "d", "title": "Energy (eV)", "titleFont": "DejaVu Sans Mono", "titleFontSize": 44, "titleFontWeight": "normal", "titlePadding": 8}}, "y": {"datum": 0, "type": "quantitative", "axis": null}}},
{"data": {"name": "one"}, "mark": {"type": "point", "opacity": 0}, "encoding": {"x": {"datum": 0, "type": "quantitative", "axis": {"orient": "bottom", "values": [-9,-7,-5,-3,-1,1,3], "tickSize": 14, "labels": false, "title": null}}, "y": {"datum": 0, "type": "quantitative", "axis": null}}},
{"data": {"name": "one"}, "mark": {"type": "text", "text": "DOS", "align": "right", "baseline": "alphabetic"}, "encoding": {"x": {"datum": -0.32, "type": "quantitative", "axis": null}, "y": {"datum": 0.643, "type": "quantitative", "axis": null}}},
{"data": {"name": "one"}, "mark": {"type": "text", "text": "of", "align": "left", "baseline": "alphabetic"}, "encoding": {"x": {"datum": 0.34, "type": "quantitative", "axis": null}, "y": {"datum": 0.643, "type": "quantitative", "axis": null}}},
{"data": {"name": "one"}, "mark": {"type": "text", "text": "O", "align": "left", "baseline": "alphabetic"}, "encoding": {"x": {"datum": 1.72, "type": "quantitative", "axis": null}, "y": {"datum": 0.643, "type": "quantitative", "axis": null}}},
{"data": {"name": "one"}, "mark": {"type": "text", "text": "↑", "align": "center", "baseline": "middle", "font": "Liberation Sans", "fontSize": 66}, "encoding": {"x": {"datum": -9.645, "type": "quantitative", "axis": null}, "y": {"datum": 0.53, "type": "quantitative", "axis": null}}},
{"data": {"name": "one"}, "mark": {"type": "text", "text": "↓", "align": "center", "baseline": "middle", "font": "Liberation Sans", "fontSize": 66}, "encoding": {"x": {"datum": -9.645, "type": "quantitative", "axis": null}, "y": {"datum": -0.4, "type": "quantitative", "axis": null}}}
]
}
],
"config": {
  "font": "DejaVu Sans",
  "view": {"stroke": "black", "strokeWidth": 2.5},
  "axis": {"domain": false, "grid": false, "tickColor": "black", "tickWidth": 2.5, "labelColor": "black", "labelFont": "DejaVu Sans", "labelFontSize": 38, "titleColor": "black", "labelFlush": false, "labelOverlap": false},
  "axisX": {"labelFlush": false},
  "text": {"color": "black", "font": "DejaVu Sans", "fontSize": 37},
  "rule": {"color": "black", "strokeWidth": 2.2},
  "line": {"color": "black", "strokeWidth": 2.3}
}
}
